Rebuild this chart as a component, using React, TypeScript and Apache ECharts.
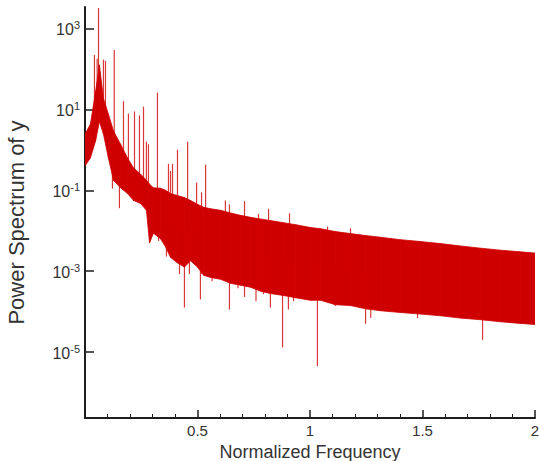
import React, { useEffect, useRef } from "react";
import * as echarts from "echarts";

// Envelope of the spectrum (frequency, upper and lower power)
const bandFreq = [
  0.0, 0.024, 0.047, 0.064, 0.082, 0.104, 0.127, 0.158, 0.189, 0.216, 0.247, 0.273, 0.287,
  0.304, 0.336, 0.358, 0.38, 0.411, 0.442, 0.469, 0.5, 0.527, 0.558, 0.602, 0.647, 0.691,
  0.736, 0.78, 0.824, 0.882, 0.936, 1.002, 1.047, 1.113, 1.18, 1.247, 1.313, 1.402, 1.491,
  1.58, 1.669, 1.758, 1.847, 1.936, 2.0,
];
const bandUpper = [
  2.45, 4.27, 27.5, 126, 18.6, 7.6, 2.9, 1.38, 0.63, 0.355, 0.25, 0.178, 0.141,
  0.115, 0.112, 0.1, 0.083, 0.074, 0.066, 0.056, 0.045, 0.038, 0.035, 0.032, 0.0275, 0.024,
  0.0214, 0.0195, 0.0178, 0.0158, 0.0141, 0.012, 0.0112, 0.0095, 0.0085, 0.0076, 0.0069, 0.006, 0.0054,
  0.0048, 0.0042, 0.0037, 0.0033, 0.003, 0.0028,
];
const bandLower = [
  0.4, 0.63, 1.66, 5.0, 2.45, 0.63, 0.174, 0.115, 0.083, 0.056, 0.047, 0.032, 0.005,
  0.0087, 0.0063, 0.004, 0.0022, 0.0016, 0.00126, 0.0018, 0.00126, 0.00079, 0.0007, 0.00063, 0.0005, 0.00045,
  0.0004, 0.00032, 0.00028, 0.00025, 0.00022, 0.00019, 0.00019, 0.000148, 0.000141, 0.000117, 0.000105, 0.000095, 0.000087,
  0.000079, 0.000069, 0.000063, 0.000056, 0.000051, 0.000048,
];

// Isolated spectral lines that stick out above the band
const upSpikeFreq = [
  0.042, 0.054, 0.06, 0.082, 0.091, 0.13, 0.171, 0.193, 0.22, 0.242, 0.26, 0.273, 0.282, 0.322,
  0.371, 0.38, 0.389, 0.411, 0.456, 0.496, 0.518, 0.536, 0.624, 0.642, 0.709, 0.771, 0.816, 0.909,
  1.078, 1.18,
];
const upSpikeValue = [
  224, 178, 3200, 170, 158, 295, 16, 7.9, 8.9, 7.1, 11.7, 1.6, 1.38, 26,
  0.45, 0.3, 0.45, 1.0, 1.58, 0.155, 0.089, 0.43, 0.056, 0.045, 0.054, 0.026, 0.035, 0.027,
  0.0126, 0.0115,
];

// Isolated spectral lines that drop below the band
const downSpikeFreq = [
  0.122, 0.153, 0.216, 0.247, 0.327, 0.358, 0.362, 0.42, 0.442, 0.464, 0.513, 0.518, 0.565,
  0.642, 0.68, 0.709, 0.76, 0.793, 0.824, 0.878, 0.904, 0.927, 1.033, 1.113, 1.247, 1.27,
  1.478, 1.767,
];
const downSpikeValue = [
  0.11, 0.036, 0.054, 0.046, 0.0056, 0.0045, 0.0023, 0.00085, 0.000126, 0.00085, 0.0002, 0.00085, 0.00056,
  0.000112, 0.00038, 0.00023, 0.00018, 0.00027, 0.000126, 0.000013, 0.000112, 0.00018, 0.0000045, 0.000138, 0.00005, 0.000069,
  0.000069, 0.00002,
];

const yTickValues = [1e-5, 1e-3, 1e-1, 1e1, 1e3];
const xTitle = "Normalized Frequency";
const yTitle = "Power Spectrum of y";

const RED = "#cf0000";
const AXIS = "#1e1e1e";
const FONT = "Liberation Sans, Arial, sans-serif";

function nearestBand(f: number): number {
  let best = 0;
  for (let i = 1; i < bandFreq.length; i++) {
    if (Math.abs(bandFreq[i] - f) < Math.abs(bandFreq[best] - f)) best = i;
  }
  return best;
}

const spikeRender = (params: any, api: any) => {
  const f = api.value(0);
  const v = api.value(1);
  const k = nearestBand(f);
  const mid = Math.sqrt(bandUpper[k] * bandLower[k]);
  const p1 = api.coord([f, v]);
  const p2 = api.coord([f, mid]);
  return {
    type: "line",
    shape: { x1: p1[0], y1: p1[1], x2: p2[0], y2: p2[1] },
    style: { stroke: RED, lineWidth: 1.2, opacity: 0.78 },
  };
};

export default function App() {
  const ref = useRef<HTMLDivElement>(null);

  useEffect(() => {
    if (!ref.current) return;
    const chart = echarts.init(ref.current, undefined, { renderer: "svg" });

    const bandData = bandFreq.map((f, i) => [f, bandUpper[i], bandLower[i]]);
    const upData = upSpikeFreq.map((f, i) => [f, upSpikeValue[i]]);
    const downData = downSpikeFreq.map((f, i) => [f, downSpikeValue[i]]);

    const option: any = {
      animation: false,
      backgroundColor: "#ffffff",
      grid: { left: 85, right: 4, top: 7, bottom: 43, containLabel: false, outerBoundsMode: "none" },
      xAxis: {
        type: "value",
        min: 0,
        max: 2,
        interval: 0.5,
        name: xTitle,
        nameLocation: "middle",
        nameGap: 22,
        nameTextStyle: { fontFamily: FONT, fontSize: 18, color: "#333" },
        axisLine: { show: true, onZero: false, lineStyle: { color: AXIS, width: 2 } },
        axisTick: { show: true, inside: true, length: 8, lineStyle: { color: AXIS, width: 1.5 } },
        minorTick: { show: true, splitNumber: 5, length: 4, lineStyle: { color: AXIS, width: 1 } },
        splitLine: { show: false },
        minorSplitLine: { show: false },
        axisLabel: {
          margin: 5,
          fontFamily: FONT,
          fontSize: 15,
          color: "#333",
          formatter: (v: number) => (v === 0 ? "" : String(v)),
        },
      },
      yAxis: {
        type: "log",
        logBase: 10,
        min: 2.34e-7,
        max: 3.4e3,
        name: yTitle,
        nameLocation: "middle",
        nameGap: 58,
        nameTextStyle: { fontFamily: FONT, fontSize: 22, color: "#333", padding: [0, 20, 0, 0] },
        axisLine: { show: true, onZero: false, lineStyle: { color: AXIS, width: 2 } },
        axisTick: {
          show: true,
          inside: true,
          length: 9,
          customValues: yTickValues,
          lineStyle: { color: AXIS, width: 1.5 },
        },
        minorTick: { show: false },
        splitLine: { show: false },
        axisLabel: {
          margin: 5,
          customValues: yTickValues,
          formatter: (v: number) => {
            const e = Math.round(Math.log10(v));
            return "{b|10}{s|" + e + "}";
          },
          rich: {
            b: { fontFamily: FONT, fontSize: 16, color: "#333", lineHeight: 18, verticalAlign: "bottom" },
            s: { fontFamily: FONT, fontSize: 11, color: "#333", lineHeight: 18, verticalAlign: "top", padding: [0, 0, 8, 0] },
          },
        },
      },
      series: [
        {
          type: "custom",
          name: "band",
          clip: true,
          data: bandData,
          encode: { x: 0, y: [1, 2] },
          renderItem: (params: any, api: any) => {
            const i = params.dataIndex;
            if (i >= bandFreq.length - 1) return null;
            const pts = [
              api.coord([bandFreq[i], bandUpper[i]]),
              api.coord([bandFreq[i + 1], bandUpper[i + 1]]),
              api.coord([bandFreq[i + 1], bandLower[i + 1]]),
              api.coord([bandFreq[i], bandLower[i]]),
            ];
            return {
              type: "polygon",
              shape: { points: pts },
              style: { fill: RED, stroke: RED, lineWidth: 0.8 },
            };
          },
        },
        {
          type: "custom",
          name: "up",
          clip: true,
          data: upData,
          encode: { x: 0, y: 1 },
          renderItem: spikeRender,
        },
        {
          type: "custom",
          name: "down",
          clip: true,
          data: downData,
          encode: { x: 0, y: 1 },
          renderItem: spikeRender,
        },
      ],
    };

    chart.setOption(option);
    return () => chart.dispose();
  }, []);

  return (
    <div
      ref={ref}
      style={{ position: "fixed", left: 0, top: 0, width: 539, height: 461, background: "#fff" }}
    />
  );
}
